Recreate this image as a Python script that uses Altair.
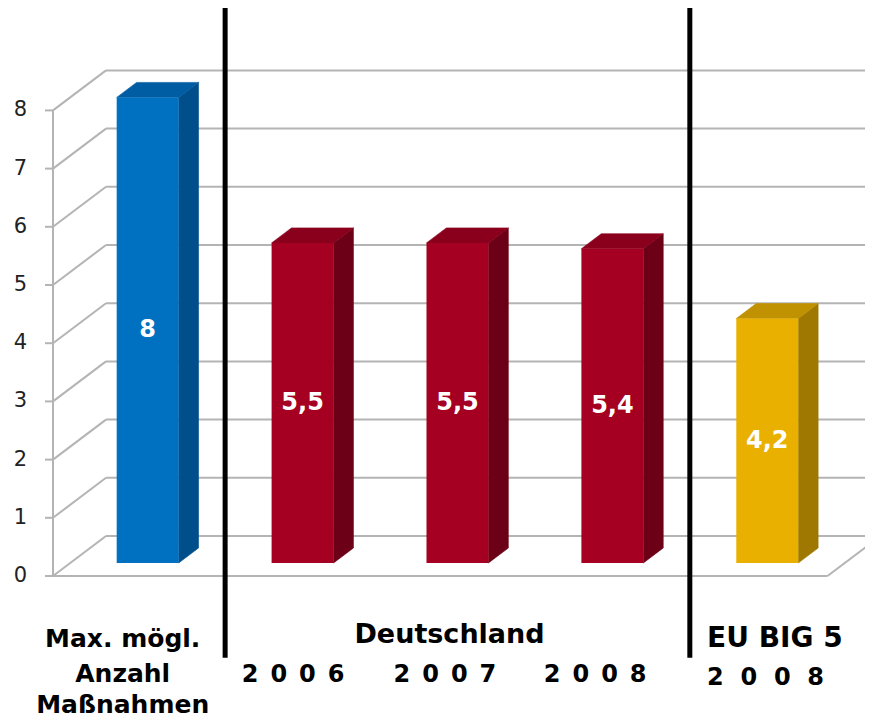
import altair as alt
import pandas as pd

# ---------------- data ----------------
categories = ["Max. mögl. Anzahl Maßnahmen", "Deutschland 2006", "Deutschland 2007",
              "Deutschland 2008", "EU BIG 5 2008"]
groups = ["max", "de", "de", "de", "eu"]
values = [8.0, 5.5, 5.5, 5.4, 4.2]
value_labels = ["8", "5,5", "5,5", "5,4", "4,2"]
y_ticks = [0, 1, 2, 3, 4, 5, 6, 7, 8]

front_colors = ["#0070C0", "#A50021", "#A50021", "#A50021", "#E9B000"]
side_colors = ["#004F8A", "#6B0016", "#6B0016", "#6B0016", "#9E7800"]
top_colors = ["#005DA3", "#8A001C", "#8A001C", "#8A001C", "#C09100"]

# text under the plot
label_texts = ["Max. mögl.", "Anzahl", "Maßnahmen", "Deutschland", "EU BIG 5"]
label_x = [-0.05, -0.05, -0.05, 2.06, 4.16]
label_y = [-1.22, -1.82, -2.354, -1.151, -1.22]
label_size = [25, 25, 25, 27, 28]
year_texts = ["2\u20020\u20020\u20026", "2\u20020\u20020\u20027",
              "2\u20020\u20020\u20028", "2\u20070\u20070\u20078"]
year_x = [1.05, 2.03, 3.0, 4.10]
year_y = [-1.816, -1.816, -1.816, -1.873]

# ---------------- layout (style) ----------------
W, H, PAD_L = 812, 711, 45
PX_X, PX_Y = 154.9, 58.2          # pixels per data unit
X_MIN = -0.5
X_MAX = X_MIN + W / PX_X
Y_MAX = 568 / PX_Y
Y_MIN = Y_MAX - H / PX_Y
DX, DY = 53 / PX_X, 40 / PX_Y      # full depth of the 3D box
BAR_F, BAR_B, BAR_W = 0.325, 0.70, 0.40
TICK = 8 / PX_X
DIV_BOTTOM = -1.404
N = len(values)
X_END = X_MIN + N

XS = alt.Scale(domain=[X_MIN, X_MAX], nice=False, zero=False)
YS = alt.Scale(domain=[Y_MIN, Y_MAX], nice=False, zero=False)


def ex(f="x"):
    return alt.X(f"{f}:Q", scale=XS, axis=None)


def ey(f="y"):
    return alt.Y(f"{f}:Q", scale=YS, axis=None)


GRID = "#B4B4B4"

# ---------- gridlines / box ----------
grid_rows = []
for v in y_ticks:
    grid_rows.append(dict(x=X_MIN, y=v, x2=X_MIN + DX, y2=v + DY))
    grid_rows.append(dict(x=X_MIN + DX, y=v + DY, x2=X_MAX, y2=v + DY))
    grid_rows.append(dict(x=X_MIN - TICK, y=v, x2=X_MIN, y2=v))
grid_rows.append(dict(x=X_MIN, y=0, x2=X_MIN, y2=max(y_ticks)))
grid_rows.append(dict(x=X_MIN, y=0, x2=X_END, y2=0))
grid_rows.append(dict(x=X_END, y=0, x2=X_END + DX, y2=DY))
grid = alt.Chart(pd.DataFrame(grid_rows)).mark_rule(color=GRID, strokeWidth=2).encode(
    x=ex("x"), y=ey("y"), x2="x2:Q", y2="y2:Q")

tick_df = pd.DataFrame({"y": y_ticks, "t": [str(t) for t in y_ticks],
                        "x": [X_MIN - 26 / PX_X] * len(y_ticks)})
tick_labels = alt.Chart(tick_df).mark_text(
    align="right", baseline="middle", font="DejaVu Sans", fontSize=21, color="#222222"
).encode(x=ex("x"), y=ey("y"), text="t:N")

# ---------- bars ----------
fx, fy = BAR_F * DX, BAR_F * DY
bx, by = BAR_B * DX, BAR_B * DY
front_rows, face_rows, lab_rows = [], [], []
for i, v in enumerate(values):
    xl = i + fx - BAR_W / 2
    xr = i + fx + BAR_W / 2
    d = bx - fx
    front_rows.append(dict(x=xl, x2=xr, y=fy, y2=v + fy, color=front_colors[i]))
    # side face
    face_rows += [
        dict(face=f"s{i}", x=xr, y=v + fy, y2=fy, color=side_colors[i]),
        dict(face=f"s{i}", x=xr + d, y=v + by, y2=by, color=side_colors[i]),
    ]
    # top face
    face_rows += [
        dict(face=f"t{i}", x=xl, y=v + fy, y2=v + fy, color=top_colors[i]),
        dict(face=f"t{i}", x=xl + d, y=v + by, y2=v + fy, color=top_colors[i]),
        dict(face=f"t{i}", x=xr, y=v + by, y2=v + fy, color=top_colors[i]),
        dict(face=f"t{i}", x=xr + d, y=v + by, y2=v + by, color=top_colors[i]),
    ]
    lab_rows.append(dict(x=i + fx, y=v / 2 + fy, t=value_labels[i]))

fronts = alt.Chart(pd.DataFrame(front_rows)).mark_rect().encode(
    x=ex("x"), x2="x2:Q", y=ey("y"), y2="y2:Q",
    color=alt.Color("color:N", scale=None))

faces = alt.Chart(pd.DataFrame(face_rows)).mark_area(orient="vertical", strokeWidth=0.6).encode(
    x=ex("x"), y=ey("y"), y2="y2:Q", detail="face:N",
    color=alt.Color("color:N", scale=None), stroke=alt.Stroke("color:N", scale=None))

value_text = alt.Chart(pd.DataFrame(lab_rows)).mark_text(
    font="DejaVu Sans", fontWeight="bold", fontSize=24, color="white",
    align="center", baseline="middle"
).encode(x=ex("x"), y=ey("y"), text="t:N")

# ---------- dividers ----------
bounds = [i + 0.5 for i in range(N - 1) if groups[i] != groups[i + 1]]
div_df = pd.DataFrame({"x": [b + fx for b in bounds], "y": [Y_MAX] * len(bounds),
                       "y2": [DIV_BOTTOM] * len(bounds)})
dividers = alt.Chart(div_df).mark_rule(color="black", strokeWidth=5).encode(
    x=ex("x"), y=ey("y"), y2="y2:Q")

# ---------- category texts ----------
lab_df = pd.DataFrame({"t": label_texts, "x": label_x, "y": label_y, "s": label_size})
cat_text = alt.Chart(lab_df).mark_text(
    font="DejaVu Sans", fontWeight="bold", color="black",
    align="center", baseline="alphabetic"
).encode(x=ex("x"), y=ey("y"), text="t:N",
         size=alt.Size("s:Q", scale=None))

yr_df = pd.DataFrame({"t": year_texts, "x": year_x, "y": year_y})
yr_text = alt.Chart(yr_df).mark_text(
    font="DejaVu Sans", fontWeight="bold", fontSize=24, color="black",
    align="center", baseline="alphabetic"
).encode(x=ex("x"), y=ey("y"), text="t:N")

chart = alt.layer(
    grid, tick_labels, faces, fronts, value_text, dividers, cat_text, yr_text
).properties(
    width=W, height=H,
    autosize=alt.AutoSizeParams(type="none"),
    padding={"left": PAD_L, "top": 0, "right": 0, "bottom": 0},
    background="white",
).configure_view(strokeWidth=0)

chart.save("out.html", embed_options={"renderer": "svg", "actions": False})
